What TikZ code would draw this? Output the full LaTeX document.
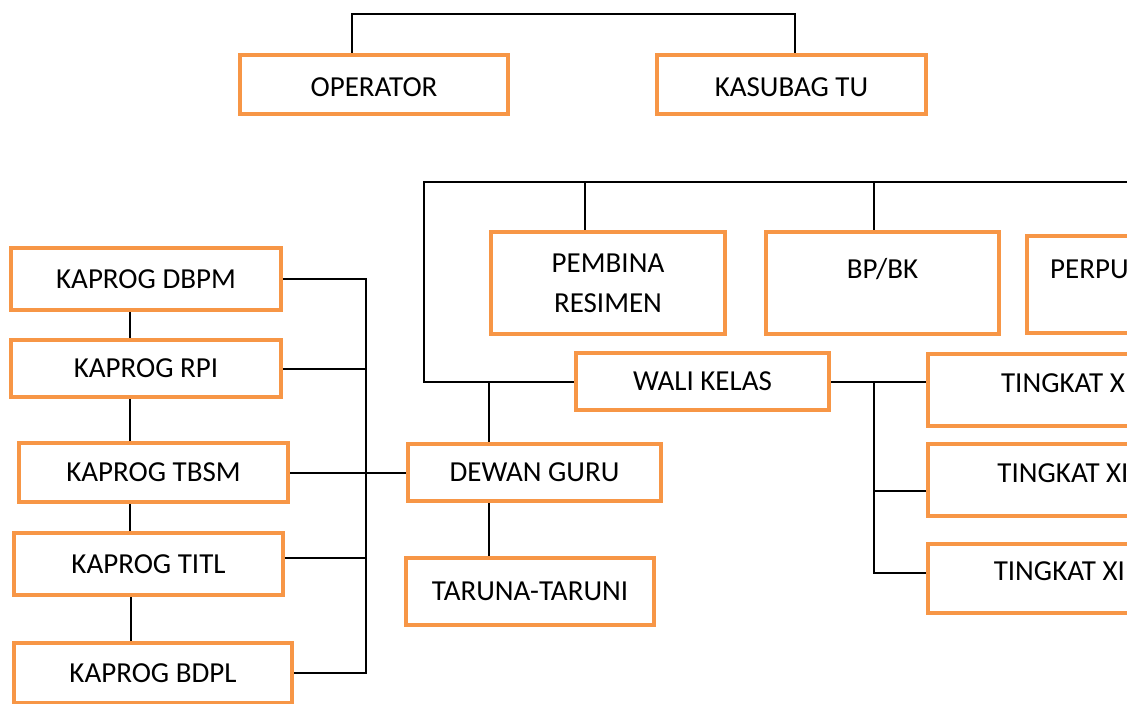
\documentclass[tikz,border=0pt]{standalone}
\usepackage{fontspec}
\setmainfont{Carlito}
\usepackage{xcolor}
\usetikzlibrary{positioning}
\definecolor{oranye}{HTML}{F79646}
\tikzset{
  kotak/.style={draw=oranye, line width=4.5pt, fill=white, inner sep=0pt, align=center}, % für Kästen
  garis/.style={draw=black, line width=2pt}, % für Linien
  tingkat/.style={kotak, minimum width=270pt, minimum height=#1, text depth=14pt}
}

\begin{document}
\begin{tikzpicture}[x=1pt, y=-1pt,
font=\fontsize{29}{40}\selectfont
]
\useasboundingbox (0,0) rectangle (1127,704);
\clip (0,0) rectangle (1127,704);

%Kotak
\node[kotak, minimum width=268pt, minimum height=59pt, text height=25pt] (operator) at (374,84.5) {OPERATOR};
\node[kotak, minimum width=269pt, minimum height=59pt, text height=25pt] (kasubag) at (791.5,84.5) {KASUBAG TU};

\node[kotak, minimum width=270pt, minimum height=62pt] (dbpm) at (146,279) {KAPROG DBPM};
\node[kotak, minimum width=270pt, minimum height=57pt] (rpi) at (146,368.5) {KAPROG RPI};
\node[kotak, minimum width=269pt, minimum height=59pt] (tbsm) at (153.5,472.5) {KAPROG TBSM};
\node[kotak, minimum width=269pt, minimum height=62pt] (titl) at (148.5,564) {KAPROG TITL};
\node[kotak, minimum width=278pt, minimum height=60pt] (bdpl) at (153,673) {KAPROG BDPL};

\node[kotak, minimum width=234pt, minimum height=102pt] (pembina) at (608,283) {PEMBINA\\RESIMEN};
\node[kotak, minimum width=233pt, minimum height=102pt, text depth=30pt] (bpbk) at (882.5,283) {BP/BK};
\node[kotak, minimum width=234pt, minimum height=97pt, text depth=30pt] (perpus) at (1144,284.5) {PERPUSTAKAAN};

\node[kotak, minimum width=253pt, minimum height=57pt] (wali) at (702.5,381.5) {WALI KELAS};
\node[kotak, minimum width=253pt, minimum height=57pt] (dewan) at (534.5,472.5) {DEWAN GURU};
\node[kotak, minimum width=248pt, minimum height=67pt] (taruna) at (530,591.5) {TARUNA-TARUNI};

\node[tingkat=72pt] (tkx) at (1063,390) {TINGKAT X};
\node[tingkat=72pt] (tkxi) at (1063,480) {TINGKAT XI};
\node[tingkat=69pt] (tkxii) at (1063,578.5) {TINGKAT XII};

%Hilfspunkte
\coordinate (atas) at (0,14);
\coordinate (busatas) at (424,182);
\coordinate (ujung) at (1140,182);
\coordinate (jalur) at (366,0);
\coordinate (cabang) at ([xshift=43pt]wali.east);

%Garis
\draw[garis] ([xshift=-22pt]operator.north) -- ([xshift=-22pt]operator.north |- atas)
  -| ([xshift=3.5pt]kasubag.north);

\draw[garis] (wali.west) -| (busatas) -- (ujung);
\draw[garis] ([xshift=-23pt]pembina.north) -- ([xshift=-23pt]pembina.north |- busatas);
\draw[garis] ([xshift=-8.5pt]bpbk.north) -- ([xshift=-8.5pt]bpbk.north |- busatas);

\draw[garis] ([xshift=-45.5pt]dewan.north) -- ([xshift=-45.5pt]dewan.north |- wali.west);
\draw[garis] ([xshift=-45.5pt]dewan.south) -- ([xshift=-45.5pt]dewan.south |- taruna.north);

\draw[garis] (wali.east) -- (wali.east -| tkx.west);
\draw[garis] (cabang) |- ([yshift=-11pt]tkxi.west);
\draw[garis] (cabang) |- ([yshift=5.5pt]tkxii.west);

\draw[garis] ([xshift=-16pt]dbpm.south) -- ([xshift=-16pt]dbpm.south |- rpi.north);
\draw[garis] ([xshift=-16pt]rpi.south) -- ([xshift=-16pt]rpi.south |- tbsm.north);
\draw[garis] ([xshift=-23.5pt]tbsm.south) -- ([xshift=-23.5pt]tbsm.south |- titl.north);
\draw[garis] ([xshift=-17.5pt]titl.south) -- ([xshift=-17.5pt]titl.south |- bdpl.north);

\draw[garis] (dbpm.east) -- (dbpm.east -| jalur) -- (bdpl.east -| jalur) -- (bdpl.east);
\draw[garis] (rpi.east) -- (rpi.east -| jalur);
\draw[garis] ([yshift=6pt]titl.east) -- ([yshift=6pt]titl.east -| jalur);
\draw[garis] (tbsm.east) -- (dewan.west);

\end{tikzpicture}
\end{document}
